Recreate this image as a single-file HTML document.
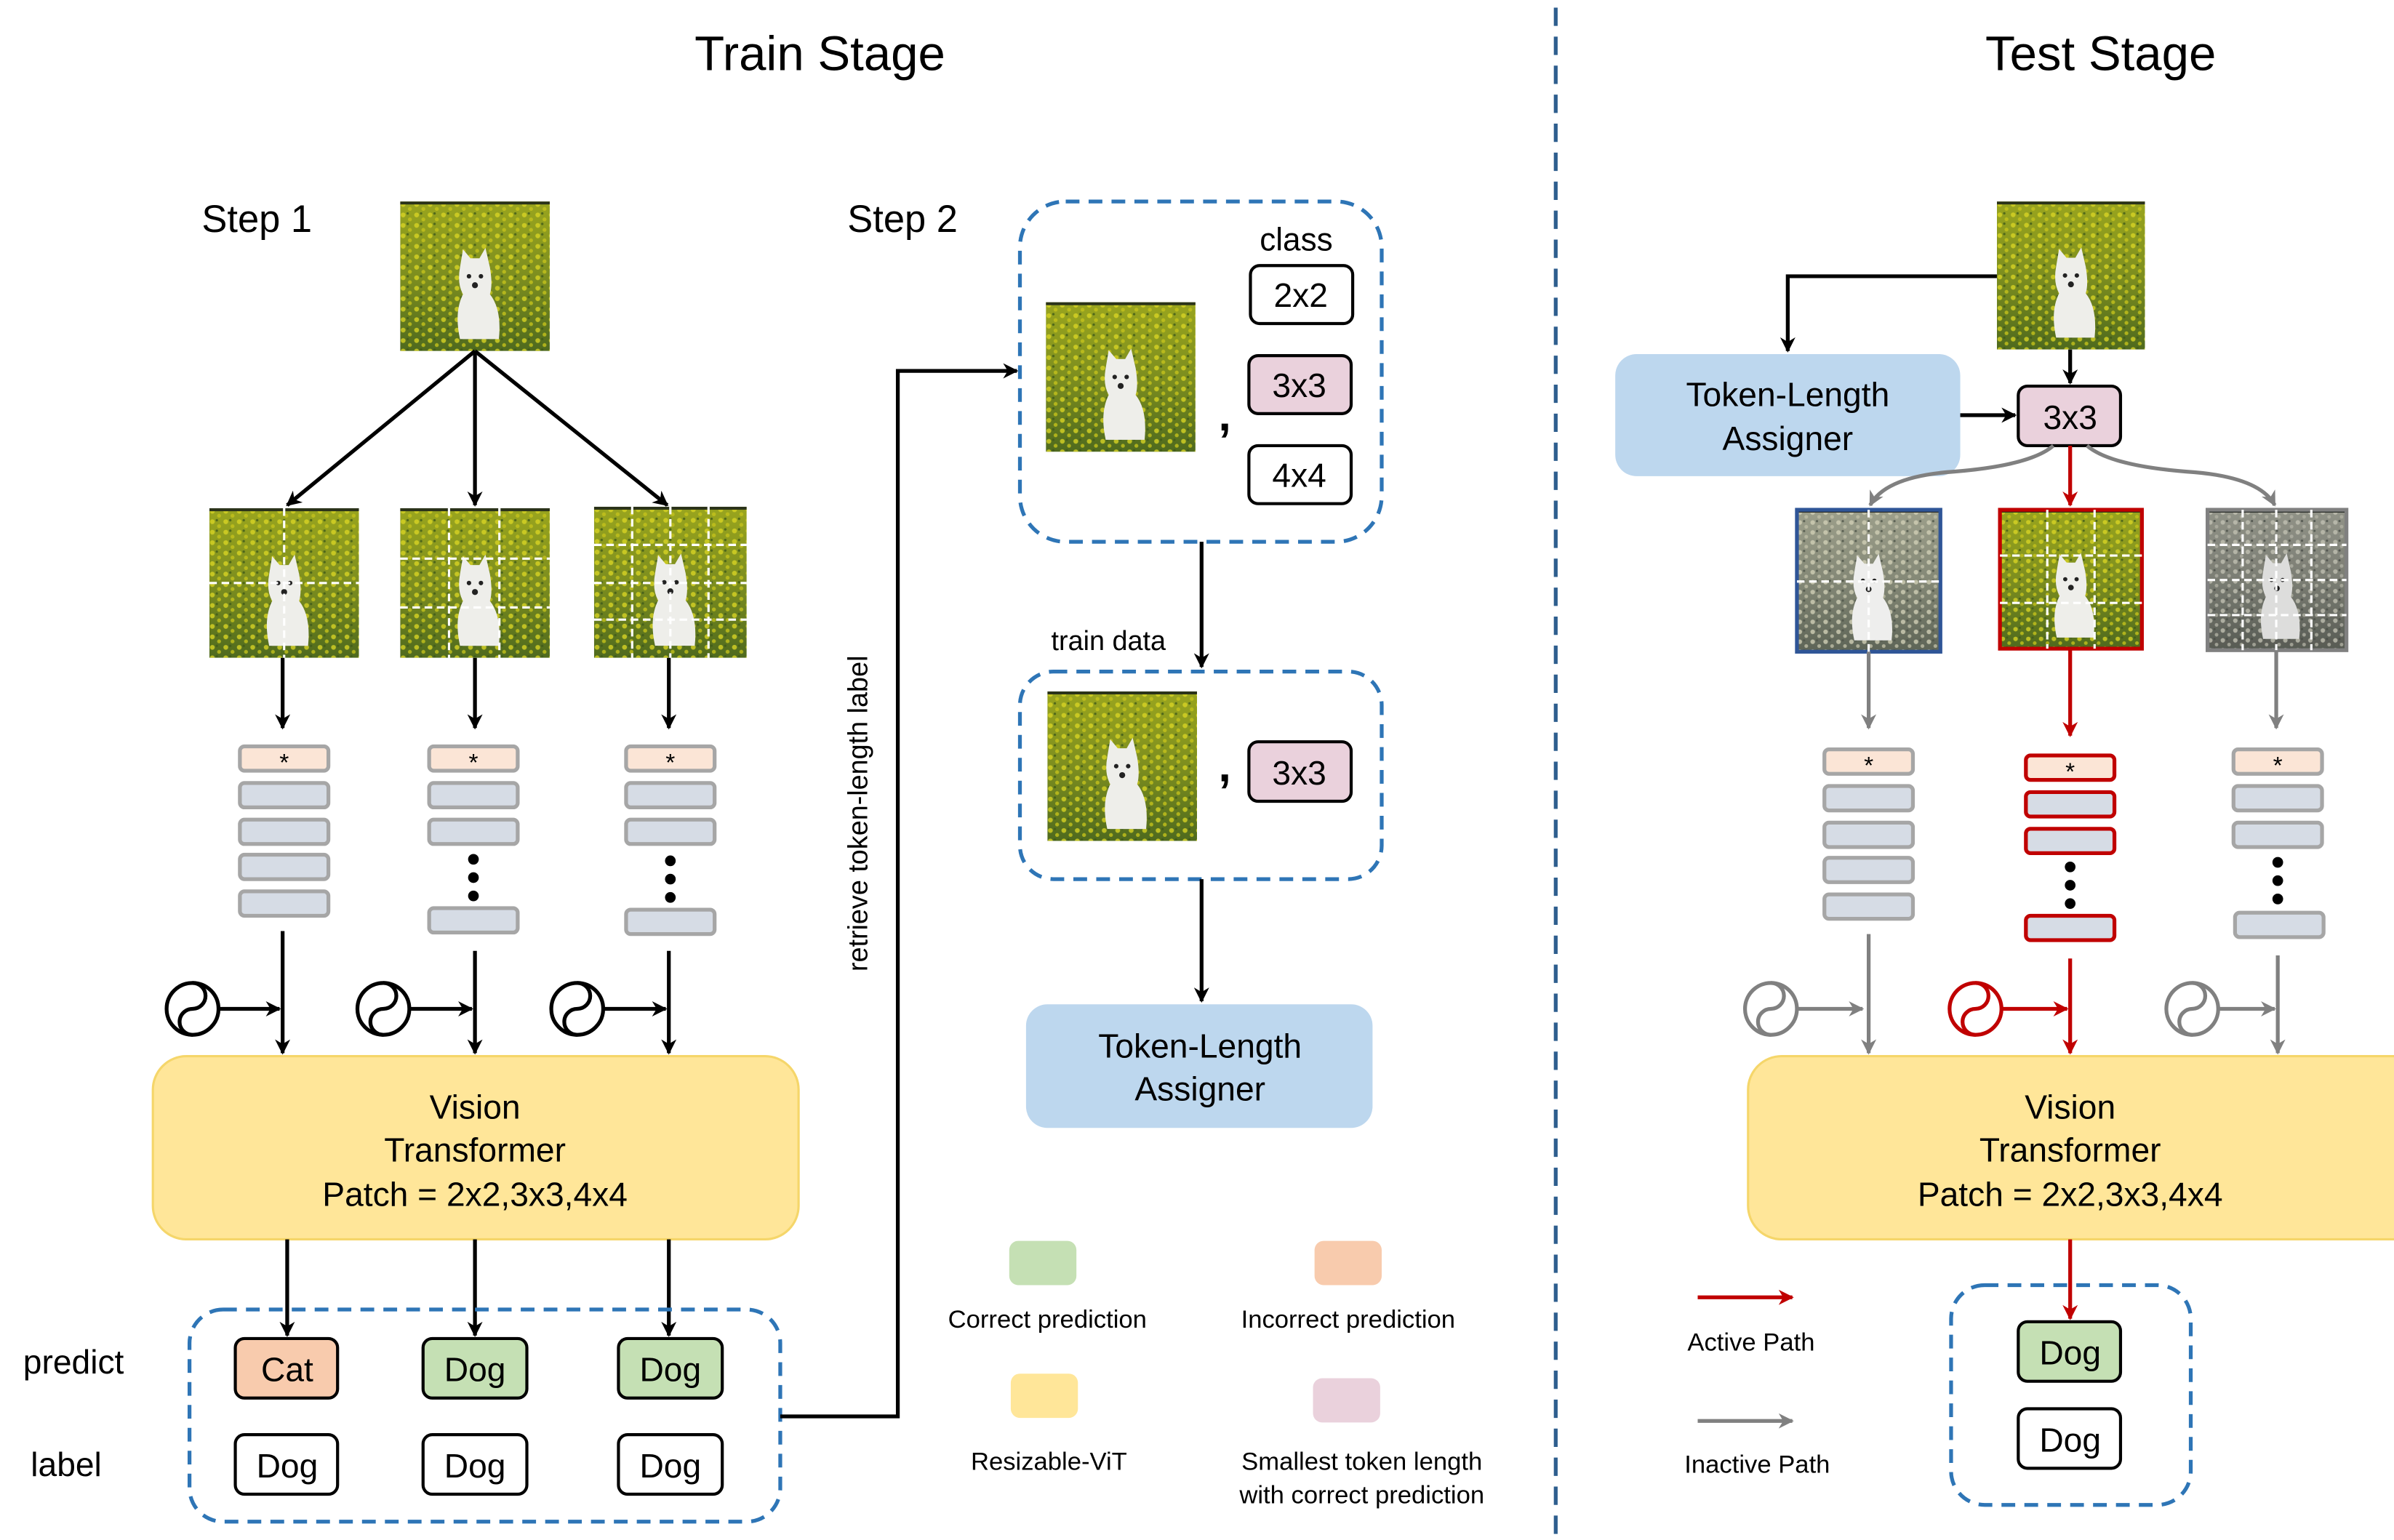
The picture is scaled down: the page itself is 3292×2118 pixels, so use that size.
<!DOCTYPE html>
<html><head><meta charset="utf-8"><style>html,body{margin:0;padding:0;background:#fff}svg{display:block}text{font-family:"Liberation Sans","DejaVu Sans",sans-serif;fill:#000}</style></head>
<body>
<svg width="3292" height="2118" viewBox="0 0 1568 1009" xmlns="http://www.w3.org/2000/svg">
<defs>
<marker id="ab" markerWidth="10" markerHeight="10" refX="9" refY="5" orient="auto" markerUnits="userSpaceOnUse"><path d="M0,0 L10,5 L0,10 L3,5 z" fill="#000"/></marker>
<marker id="ag" markerWidth="10" markerHeight="10" refX="9" refY="5" orient="auto" markerUnits="userSpaceOnUse"><path d="M0,0 L10,5 L0,10 L3,5 z" fill="#808080"/></marker>
<marker id="ar" markerWidth="10" markerHeight="10" refX="9" refY="5" orient="auto" markerUnits="userSpaceOnUse"><path d="M0,0 L10,5 L0,10 L3,5 z" fill="#c00000"/></marker>
<linearGradient id="fld" x1="0" y1="0" x2="0" y2="1"><stop offset="0" stop-color="#9aa51e"/><stop offset="0.5" stop-color="#7d8e1f"/><stop offset="1" stop-color="#4f6a1e"/></linearGradient>
<pattern id="spk" width="9" height="7" patternUnits="userSpaceOnUse"><circle cx="2" cy="2" r="1.6" fill="#d7d324"/><circle cx="6.5" cy="5" r="1.3" fill="#c4c21c"/><circle cx="5" cy="1" r="0.8" fill="#3f5a19"/></pattern>
<symbol id="dog" viewBox="0 0 100 100" preserveAspectRatio="none">
<rect width="100" height="100" fill="url(#fld)"/><rect width="100" height="100" fill="url(#spk)" opacity="0.8"/>
<rect width="100" height="2" fill="#2b331a"/>
<path d="M40,44 L42,32 L47,38 L53,38 L57,31 L60,44 Q62,56 60,62 Q68,72 66,92 L40,92 Q36,74 42,62 Q38,55 40,44z" fill="#eeeeea"/>
<circle cx="46" cy="50" r="1.5" fill="#222"/><circle cx="54" cy="50" r="1.5" fill="#222"/><circle cx="50" cy="56" r="2" fill="#222"/>
</symbol>
<filter id="gr"><feColorMatrix type="saturate" values="0.25"/></filter>
<filter id="gr2"><feColorMatrix type="saturate" values="0.15"/><feComponentTransfer><feFuncR type="linear" slope="0.85"/><feFuncG type="linear" slope="0.85"/><feFuncB type="linear" slope="0.85"/></feComponentTransfer></filter>
</defs>

<text x="537" y="46" font-size="32" text-anchor="middle">Train Stage</text>
<text x="1376" y="46" font-size="32" text-anchor="middle">Test Stage</text>
<line x1="1019" y1="5" x2="1019" y2="1009" stroke="#2e5e8e" stroke-width="2.5" stroke-dasharray="12,7"/>
<text x="132" y="152" font-size="25">Step 1</text>
<text x="555" y="152" font-size="25">Step 2</text>

<use href="#dog" x="262" y="132" width="98" height="98"/>
<g stroke="#000" stroke-width="2.5" fill="none">
<line x1="311" y1="230" x2="188" y2="331" marker-end="url(#ab)"/>
<line x1="311" y1="230" x2="311" y2="331" marker-end="url(#ab)"/>
<line x1="311" y1="230" x2="437" y2="331" marker-end="url(#ab)"/>
</g>
<use href="#dog" x="137" y="333" width="98" height="98"/>
<use href="#dog" x="262" y="333" width="98" height="98"/>
<use href="#dog" x="389" y="332" width="100" height="99"/>
<g stroke="#fff" stroke-width="1.5" stroke-dasharray="5,3" fill="none">
<line x1="186" y1="333" x2="186" y2="431"/><line x1="137" y1="382" x2="235" y2="382"/>
<line x1="294" y1="333" x2="294" y2="431"/><line x1="327" y1="333" x2="327" y2="431"/><line x1="262" y1="366" x2="360" y2="366"/><line x1="262" y1="398" x2="360" y2="398"/>
<line x1="414" y1="332" x2="414" y2="431"/><line x1="439" y1="332" x2="439" y2="431"/><line x1="464" y1="332" x2="464" y2="431"/><line x1="389" y1="357" x2="489" y2="357"/><line x1="389" y1="382" x2="489" y2="382"/><line x1="389" y1="406" x2="489" y2="406"/>
</g>
<g stroke="#000" stroke-width="2.5" fill="none">
<line x1="185" y1="431" x2="185" y2="477" marker-end="url(#ab)"/>
<line x1="311" y1="431" x2="311" y2="477" marker-end="url(#ab)"/>
<line x1="438" y1="431" x2="438" y2="477" marker-end="url(#ab)"/>
</g>
<g stroke="#a6a6a6" stroke-width="2.5">
<rect x="157" y="489" width="58" height="16" rx="3" fill="#fbe5d6"/>
<rect x="157" y="513" width="58" height="16" rx="3" fill="#d6dce5"/>
<rect x="157" y="537" width="58" height="16" rx="3" fill="#d6dce5"/>
<rect x="157" y="560" width="58" height="16" rx="3" fill="#d6dce5"/>
<rect x="157" y="584" width="58" height="16" rx="3" fill="#d6dce5"/>
<rect x="281" y="489" width="58" height="16" rx="3" fill="#fbe5d6"/>
<rect x="281" y="513" width="58" height="16" rx="3" fill="#d6dce5"/>
<rect x="281" y="537" width="58" height="16" rx="3" fill="#d6dce5"/>
<rect x="281" y="595" width="58" height="16" rx="3" fill="#d6dce5"/>
<rect x="410" y="489" width="58" height="16" rx="3" fill="#fbe5d6"/>
<rect x="410" y="513" width="58" height="16" rx="3" fill="#d6dce5"/>
<rect x="410" y="537" width="58" height="16" rx="3" fill="#d6dce5"/>
<rect x="410" y="596" width="58" height="16" rx="3" fill="#d6dce5"/>
</g>
<g font-size="16" text-anchor="middle"><text x="186" y="505">*</text><text x="310" y="505">*</text><text x="439" y="505">*</text></g>
<g fill="#000"><circle cx="310" cy="563" r="3.5"/><circle cx="310" cy="575" r="3.5"/><circle cx="310" cy="587" r="3.5"/><circle cx="439" cy="564" r="3.5"/><circle cx="439" cy="576" r="3.5"/><circle cx="439" cy="588" r="3.5"/></g>
<g stroke="#000" stroke-width="2.5" fill="none">
<line x1="185" y1="610" x2="185" y2="690" marker-end="url(#ab)"/>
<line x1="311" y1="623" x2="311" y2="690" marker-end="url(#ab)"/>
<line x1="438" y1="623" x2="438" y2="690" marker-end="url(#ab)"/>
<circle cx="126" cy="661" r="17"/><path d="M126,644 A8.5,8.5 0 0 1 126,661 A8.5,8.5 0 0 0 126,678"/><line x1="143" y1="661" x2="183" y2="661" marker-end="url(#ab)"/>
<circle cx="251" cy="661" r="17"/><path d="M251,644 A8.5,8.5 0 0 1 251,661 A8.5,8.5 0 0 0 251,678"/><line x1="268" y1="661" x2="309" y2="661" marker-end="url(#ab)"/>
<circle cx="378" cy="661" r="17"/><path d="M378,644 A8.5,8.5 0 0 1 378,661 A8.5,8.5 0 0 0 378,678"/><line x1="395" y1="661" x2="436" y2="661" marker-end="url(#ab)"/>
</g>
<rect x="100" y="692" width="423" height="120" rx="22" fill="#ffe699" stroke="#f5d66a" stroke-width="1.5"/>
<g font-size="22" text-anchor="middle"><text x="311" y="733">Vision</text><text x="311" y="761">Transformer</text><text x="311" y="790">Patch = 2x2,3x3,4x4</text></g>
<g stroke="#000" stroke-width="2.5" fill="none">
<line x1="188" y1="812" x2="188" y2="875" marker-end="url(#ab)"/>
<line x1="311" y1="812" x2="311" y2="875" marker-end="url(#ab)"/>
<line x1="438" y1="812" x2="438" y2="875" marker-end="url(#ab)"/>
</g>
<rect x="124" y="858" width="387" height="139" rx="22" fill="none" stroke="#2e75b6" stroke-width="2.5" stroke-dasharray="9,6"/>
<g stroke="#000" stroke-width="2">
<rect x="154" y="877" width="67" height="39" rx="6" fill="#f8cbad"/>
<rect x="277" y="877" width="68" height="39" rx="6" fill="#c5e0b4"/>
<rect x="405" y="877" width="68" height="39" rx="6" fill="#c5e0b4"/>
<rect x="154" y="940" width="67" height="39" rx="6" fill="#fff"/>
<rect x="277" y="940" width="68" height="39" rx="6" fill="#fff"/>
<rect x="405" y="940" width="68" height="39" rx="6" fill="#fff"/>
</g>
<g font-size="22" text-anchor="middle"><text x="188" y="905">Cat</text><text x="311" y="905">Dog</text><text x="439" y="905">Dog</text><text x="188" y="968">Dog</text><text x="311" y="968">Dog</text><text x="439" y="968">Dog</text></g>
<text x="15" y="900" font-size="22">predict</text>
<text x="20" y="967" font-size="22">label</text>
<polyline points="511,928 588,928 588,243 666,243" fill="none" stroke="#000" stroke-width="2.5" marker-end="url(#ab)"/>
<text transform="translate(568,533) rotate(-90)" font-size="18" text-anchor="middle">retrieve token-length label</text>

<rect x="668" y="132" width="237" height="223" rx="30" fill="none" stroke="#2e75b6" stroke-width="2.5" stroke-dasharray="9,6"/>
<use href="#dog" x="685" y="198" width="98" height="98"/>
<text x="798" y="282" font-size="30" font-weight="bold">,</text>
<text x="849" y="164" font-size="21" text-anchor="middle">class</text>
<g stroke="#000" stroke-width="2">
<rect x="819" y="174" width="67" height="38" rx="6" fill="#fff"/>
<rect x="818" y="233" width="67" height="38" rx="6" fill="#ead1dc"/>
<rect x="818" y="292" width="67" height="38" rx="6" fill="#fff"/>
</g>
<g font-size="22" text-anchor="middle"><text x="852" y="201">2x2</text><text x="851" y="260">3x3</text><text x="851" y="319">4x4</text></g>
<line x1="787" y1="355" x2="787" y2="437" stroke="#000" stroke-width="2.5" marker-end="url(#ab)"/>
<text x="726" y="426" font-size="18" text-anchor="middle">train data</text>
<rect x="668" y="440" width="237" height="136" rx="22" fill="none" stroke="#2e75b6" stroke-width="2.5" stroke-dasharray="9,6"/>
<use href="#dog" x="686" y="453" width="98" height="98"/>
<text x="798" y="512" font-size="30" font-weight="bold">,</text>
<rect x="818" y="486" width="67" height="39" rx="6" fill="#ead1dc" stroke="#000" stroke-width="2"/>
<text x="851" y="514" font-size="22" text-anchor="middle">3x3</text>
<line x1="787" y1="576" x2="787" y2="656" stroke="#000" stroke-width="2.5" marker-end="url(#ab)"/>
<rect x="672" y="658" width="227" height="81" rx="14" fill="#bdd7ee"/>
<g font-size="22" text-anchor="middle"><text x="786" y="693">Token-Length</text><text x="786" y="721">Assigner</text></g>

<rect x="661" y="813" width="44" height="29" rx="6" fill="#c5e0b4"/>
<rect x="861" y="813" width="44" height="29" rx="6" fill="#f8cbad"/>
<rect x="662" y="900" width="44" height="29" rx="6" fill="#ffe699"/>
<rect x="860" y="903" width="44" height="29" rx="6" fill="#ead1dc"/>
<g font-size="16.5" text-anchor="middle"><text x="686" y="870">Correct prediction</text><text x="883" y="870">Incorrect prediction</text><text x="687" y="963">Resizable-ViT</text><text x="892" y="963">Smallest token length</text><text x="892" y="985">with correct prediction</text></g>

<use href="#dog" x="1308" y="132" width="97" height="97"/>
<polyline points="1308,181 1171,181 1171,230" fill="none" stroke="#000" stroke-width="2.5" marker-end="url(#ab)"/>
<line x1="1356" y1="229" x2="1356" y2="251" stroke="#000" stroke-width="2.5" marker-end="url(#ab)"/>
<rect x="1058" y="232" width="226" height="80" rx="14" fill="#bdd7ee"/>
<g font-size="22" text-anchor="middle"><text x="1171" y="266">Token-Length</text><text x="1171" y="295">Assigner</text></g>
<line x1="1284" y1="272" x2="1320" y2="272" stroke="#000" stroke-width="2.5" marker-end="url(#ab)"/>
<rect x="1322" y="253" width="67" height="39" rx="6" fill="#ead1dc" stroke="#000" stroke-width="2"/>
<text x="1356" y="281" font-size="22" text-anchor="middle">3x3</text>
<path d="M1345,292 Q1330,305 1280,309 Q1235,312 1225,331" fill="none" stroke="#808080" stroke-width="2.5" marker-end="url(#ag)"/>
<path d="M1367,292 Q1382,305 1432,309 Q1480,312 1490,331" fill="none" stroke="#808080" stroke-width="2.5" marker-end="url(#ag)"/>
<line x1="1356" y1="292" x2="1356" y2="331" stroke="#c00000" stroke-width="2.5" marker-end="url(#ar)"/>
<use href="#dog" x="1177" y="334" width="94" height="93" filter="url(#gr)"/>
<use href="#dog" x="1310" y="334" width="93" height="91"/>
<use href="#dog" x="1446" y="334" width="91" height="92" filter="url(#gr2)"/>
<rect x="1177" y="334" width="94" height="93" fill="none" stroke="#2f5597" stroke-width="2.5"/>
<rect x="1310" y="334" width="93" height="91" fill="none" stroke="#c00000" stroke-width="2.5"/>
<rect x="1446" y="334" width="91" height="92" fill="none" stroke="#808080" stroke-width="2.5"/>
<g stroke="#fff" stroke-width="1.5" stroke-dasharray="5,3" fill="none">
<line x1="1224" y1="334" x2="1224" y2="427"/><line x1="1177" y1="381" x2="1271" y2="381"/>
<line x1="1341" y1="334" x2="1341" y2="425"/><line x1="1372" y1="334" x2="1372" y2="425"/><line x1="1310" y1="364" x2="1403" y2="364"/><line x1="1310" y1="395" x2="1403" y2="395"/>
<line x1="1469" y1="334" x2="1469" y2="426"/><line x1="1491" y1="334" x2="1491" y2="426"/><line x1="1514" y1="334" x2="1514" y2="426"/><line x1="1446" y1="357" x2="1537" y2="357"/><line x1="1446" y1="380" x2="1537" y2="380"/><line x1="1446" y1="403" x2="1537" y2="403"/>
</g>
<line x1="1224" y1="427" x2="1224" y2="477" stroke="#808080" stroke-width="2.5" marker-end="url(#ag)"/>
<line x1="1356" y1="425" x2="1356" y2="482" stroke="#c00000" stroke-width="2.5" marker-end="url(#ar)"/>
<line x1="1491" y1="426" x2="1491" y2="477" stroke="#808080" stroke-width="2.5" marker-end="url(#ag)"/>
<g stroke="#a6a6a6" stroke-width="2.5">
<rect x="1195" y="491" width="58" height="16" rx="3" fill="#fbe5d6"/>
<rect x="1195" y="515" width="58" height="16" rx="3" fill="#d6dce5"/>
<rect x="1195" y="539" width="58" height="16" rx="3" fill="#d6dce5"/>
<rect x="1195" y="562" width="58" height="16" rx="3" fill="#d6dce5"/>
<rect x="1195" y="586" width="58" height="16" rx="3" fill="#d6dce5"/>
<rect x="1463" y="491" width="58" height="16" rx="3" fill="#fbe5d6"/>
<rect x="1463" y="515" width="58" height="16" rx="3" fill="#d6dce5"/>
<rect x="1463" y="539" width="58" height="16" rx="3" fill="#d6dce5"/>
<rect x="1464" y="598" width="58" height="16" rx="3" fill="#d6dce5"/>
</g>
<g stroke="#c00000" stroke-width="2.5">
<rect x="1327" y="495" width="58" height="16" rx="3" fill="#fbe5d6"/>
<rect x="1327" y="519" width="58" height="16" rx="3" fill="#d6dce5"/>
<rect x="1327" y="543" width="58" height="16" rx="3" fill="#d6dce5"/>
<rect x="1327" y="600" width="58" height="16" rx="3" fill="#d6dce5"/>
</g>
<g font-size="16" text-anchor="middle"><text x="1224" y="507">*</text><text x="1356" y="511">*</text><text x="1492" y="507">*</text></g>
<g fill="#000"><circle cx="1356" cy="568" r="3.5"/><circle cx="1356" cy="580" r="3.5"/><circle cx="1356" cy="592" r="3.5"/><circle cx="1492" cy="565" r="3.5"/><circle cx="1492" cy="577" r="3.5"/><circle cx="1492" cy="589" r="3.5"/></g>
<g stroke="#808080" stroke-width="2.5" fill="none">
<line x1="1224" y1="612" x2="1224" y2="690" marker-end="url(#ag)"/>
<line x1="1492" y1="626" x2="1492" y2="690" marker-end="url(#ag)"/>
<circle cx="1160" cy="661" r="17"/><path d="M1160,644 A8.5,8.5 0 0 1 1160,661 A8.5,8.5 0 0 0 1160,678"/><line x1="1177" y1="661" x2="1220" y2="661" marker-end="url(#ag)"/>
<circle cx="1436" cy="661" r="17"/><path d="M1436,644 A8.5,8.5 0 0 1 1436,661 A8.5,8.5 0 0 0 1436,678"/><line x1="1453" y1="661" x2="1490" y2="661" marker-end="url(#ag)"/>
</g>
<g stroke="#c00000" stroke-width="2.5" fill="none">
<line x1="1356" y1="628" x2="1356" y2="690" marker-end="url(#ar)"/>
<circle cx="1294" cy="661" r="17"/><path d="M1294,644 A8.5,8.5 0 0 1 1294,661 A8.5,8.5 0 0 0 1294,678"/><line x1="1311" y1="661" x2="1354" y2="661" marker-end="url(#ar)"/>
</g>
<rect x="1145" y="692" width="445" height="120" rx="22" fill="#ffe699" stroke="#f5d66a" stroke-width="1.5"/>
<g font-size="22" text-anchor="middle"><text x="1356" y="733">Vision</text><text x="1356" y="761">Transformer</text><text x="1356" y="790">Patch = 2x2,3x3,4x4</text></g>
<line x1="1356" y1="812" x2="1356" y2="864" stroke="#c00000" stroke-width="2.5" marker-end="url(#ar)"/>
<rect x="1278" y="842" width="157" height="144" rx="22" fill="none" stroke="#2e75b6" stroke-width="2.5" stroke-dasharray="9,6"/>
<rect x="1322" y="866" width="67" height="39" rx="6" fill="#c5e0b4" stroke="#000" stroke-width="2"/>
<rect x="1322" y="923" width="67" height="39" rx="6" fill="#fff" stroke="#000" stroke-width="2"/>
<g font-size="22" text-anchor="middle"><text x="1356" y="894">Dog</text><text x="1356" y="951">Dog</text></g>
<line x1="1112" y1="850" x2="1174" y2="850" stroke="#c00000" stroke-width="2.5" marker-end="url(#ar)"/>
<line x1="1112" y1="931" x2="1174" y2="931" stroke="#808080" stroke-width="2.5" marker-end="url(#ag)"/>
<g font-size="16.5" text-anchor="middle"><text x="1147" y="885">Active Path</text><text x="1151" y="965">Inactive Path</text></g>
</svg>
</body></html>
